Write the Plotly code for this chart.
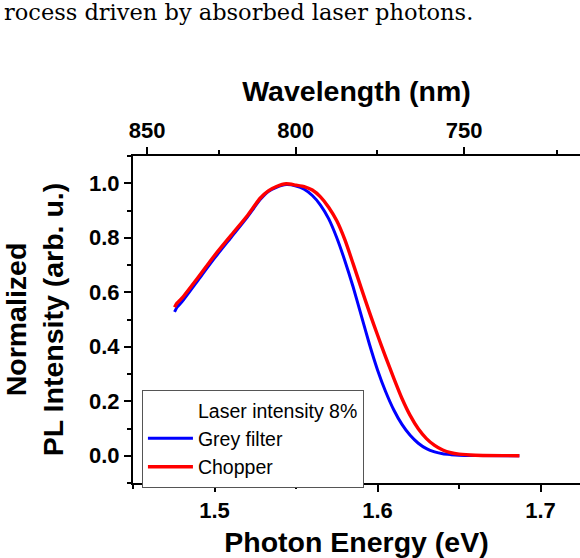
import plotly.graph_objects as go

HC = 1239.84  # eV*nm

# Photon energy (eV) and normalized PL intensity, grey filter
energy_grey = [1.4755, 1.477, 1.48, 1.49, 1.50, 1.51, 1.52, 1.528, 1.533, 1.538,
               1.544, 1.55, 1.555, 1.56, 1.565, 1.57, 1.575, 1.58, 1.585, 1.59,
               1.595, 1.60, 1.605, 1.61, 1.615, 1.62, 1.625, 1.63, 1.635, 1.64,
               1.645, 1.65, 1.66, 1.687]
pl_grey = [0.528, 0.545, 0.565, 0.645, 0.725, 0.80, 0.875, 0.94, 0.97, 0.985,
           0.995, 0.99, 0.978, 0.955, 0.92, 0.87, 0.80, 0.715, 0.62, 0.515,
           0.41, 0.315, 0.235, 0.168, 0.115, 0.075, 0.046, 0.026, 0.014, 0.007,
           0.004, 0.002, 0.001, 0.0]

# Photon energy (eV) and normalized PL intensity, chopper
energy_chop = [1.4755, 1.477, 1.48, 1.49, 1.50, 1.51, 1.52, 1.528, 1.533, 1.538,
               1.544, 1.55, 1.555, 1.56, 1.565, 1.57, 1.575, 1.58, 1.585, 1.59,
               1.595, 1.60, 1.605, 1.61, 1.615, 1.62, 1.625, 1.63, 1.635, 1.64,
               1.645, 1.65, 1.66, 1.687]
pl_chop = [0.545, 0.56, 0.578, 0.655, 0.735, 0.808, 0.88, 0.945, 0.972, 0.988,
           0.998, 0.993, 0.988, 0.975, 0.95, 0.912, 0.862, 0.792, 0.705, 0.615,
           0.527, 0.443, 0.362, 0.284, 0.21, 0.148, 0.099, 0.063, 0.038, 0.021,
           0.011, 0.006, 0.002, 0.0]

wl_major = [850, 800, 750]
wl_minor = [825, 775, 725]

FONT = "Liberation Sans"

fig = go.Figure()
# legend header entry (no visible line)
fig.add_trace(go.Scatter(x=[None], y=[None], mode="lines", name="Laser intensity 8%",
                         line=dict(color="rgba(0,0,0,0)", width=3), xaxis="x2"))
fig.add_trace(go.Scatter(x=energy_grey, y=pl_grey, mode="lines", name="Grey filter",
                         line=dict(color="#0000FF", width=3, shape="spline",
                                   smoothing=0.6)))
fig.add_trace(go.Scatter(x=energy_chop, y=pl_chop, mode="lines", name="Chopper",
                         line=dict(color="#FF0000", width=3.4, shape="spline",
                                   smoothing=0.6)))

xr = [1.45, 1.7242]
tickfont = dict(family=FONT, size=22, color="black", weight="bold")
titlefont = dict(family=FONT, size=28.5, color="black", weight="bold")

fig.update_layout(
    width=580, height=558,
    margin=dict(l=133, r=0, t=156, b=75),
    paper_bgcolor="white", plot_bgcolor="white",
    showlegend=True,
    legend=dict(x=0.02, y=0.285, xanchor="left", yanchor="top",
                bordercolor="#555555", borderwidth=1, bgcolor="white",
                font=dict(family=FONT, size=19.5, color="black"),
                itemwidth=45, tracegroupgap=0),
    xaxis=dict(range=xr, showline=True, linecolor="black", linewidth=2,
               ticks="outside", ticklen=7, tickwidth=2, tickcolor="black",
               tick0=1.5, dtick=0.1, tickformat=".1f",
               minor=dict(dtick=0.05, tick0=1.45, ticks="outside", ticklen=4,
                          tickwidth=2, tickcolor="black"),
               showgrid=False, zeroline=False, tickfont=tickfont,
               title=dict(text="Photon Energy (eV)", font=titlefont, standoff=12)),
    xaxis2=dict(range=xr, overlaying="x", side="top", anchor="y",
                showline=True, linecolor="black", linewidth=2,
                ticks="outside", ticklen=7, tickwidth=2, tickcolor="black",
                tickmode="array", tickvals=[HC / w for w in wl_major],
                ticktext=[str(w) for w in wl_major],
                minor=dict(tickmode="array", tickvals=[HC / w for w in wl_minor],
                           ticks="outside", ticklen=4, tickwidth=2, tickcolor="black"),
                showgrid=False, zeroline=False, tickfont=tickfont,
                title=dict(text="Wavelength (nm)", font=titlefont, standoff=8)),
    yaxis=dict(range=[-0.1, 1.1], showline=True, linecolor="black", linewidth=2,
               ticks="outside", ticklen=7, tickwidth=2, tickcolor="black",
               tick0=0, dtick=0.2, tickformat=".1f",
               minor=dict(dtick=0.1, tick0=0, ticks="outside", ticklen=4,
                          tickwidth=2, tickcolor="black"),
               showgrid=False, zeroline=False, tickfont=tickfont,
               title=dict(text="Normalized<br>PL Intensity (arb. u.)", font=titlefont,
                          standoff=19)),
)

# running text of the surrounding document
fig.add_annotation(text="rocess driven by absorbed laser photons.",
                   xref="paper", yref="paper", x=-131 / 447, y=(483 - 12) / 327,
                   xanchor="left", yanchor="middle", showarrow=False,
                   font=dict(family="DejaVu Serif", size=22.5, color="black"))

fig.write_html("out.html")
